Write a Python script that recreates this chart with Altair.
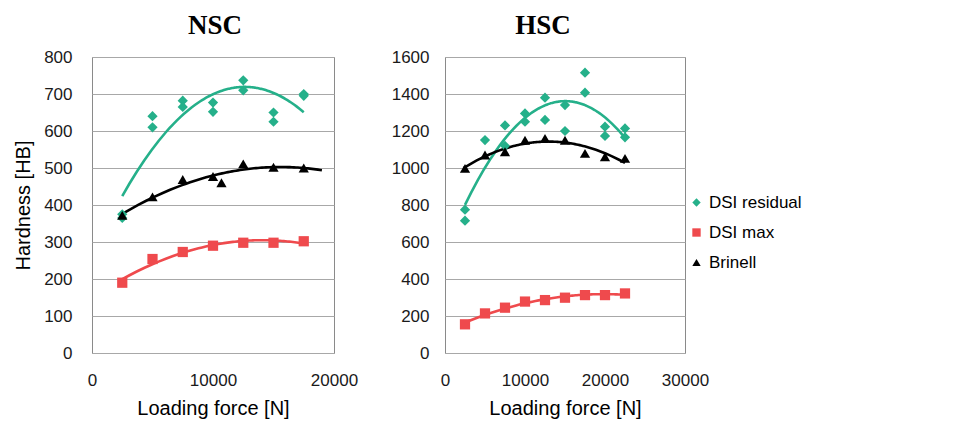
import altair as alt
import pandas as pd

SERIES = ["DSI residual", "DSI max", "Brinell"]
COLORS = ["#25B08A", "#EF4A4D", "#000000"]
SHAPES = ["diamond", "square", "triangle-up"]

# NSC panel
nsc_res_x = [2500, 2500, 5000, 5000, 7500, 7500, 10000, 10000, 12500, 12500, 15000, 15000, 17500, 17500]
nsc_res_y = [365, 375, 640, 610, 682, 665, 677, 652, 737, 710, 650, 625, 700, 695]
nsc_max_x = [2500, 5000, 7500, 10000, 12500, 15000, 17500]
nsc_max_y = [190, 254, 273, 290, 298, 298, 302]
nsc_bri_x = [2500, 5000, 7500, 10000, 10700, 12500, 15000, 17500]
nsc_bri_y = [372, 422, 469, 477, 460, 511, 502, 500]

# HSC panel
hsc_res_x = [2500, 2500, 5000, 7500, 7500, 10000, 10000, 12500, 12500, 15000, 15000,
             17500, 17500, 20000, 20000, 22500, 22500]
hsc_res_y = [775, 715, 1151, 1230, 1120, 1295, 1250, 1380, 1260, 1340, 1200,
             1515, 1407, 1223, 1173, 1214, 1166]
hsc_max_x = [2500, 5000, 7500, 10000, 12500, 15000, 17500, 20000, 22500]
hsc_max_y = [155, 214, 245, 278, 286, 299, 313, 313, 322]
hsc_bri_x = [2500, 5000, 7500, 10000, 12500, 15000, 17500, 20000, 22500]
hsc_bri_y = [998, 1070, 1088, 1150, 1160, 1150, 1079, 1061, 1052]

# trendline extents (Excel-style polynomial order 2)
nsc_ext = [[2500, 17500], [2500, 17500], [2500, 19000]]
hsc_ext = [[2500, 22500], [2500, 22500], [2300, 22500]]


def make_df(groups):
    rows = []
    for s, (xs, ys) in zip(SERIES, groups):
        for a, b in zip(xs, ys):
            rows.append({"force": a, "hardness": b, "series": s})
    return pd.DataFrame(rows)


nsc_df = make_df([(nsc_res_x, nsc_res_y), (nsc_max_x, nsc_max_y), (nsc_bri_x, nsc_bri_y)])
hsc_df = make_df([(hsc_res_x, hsc_res_y), (hsc_max_x, hsc_max_y), (hsc_bri_x, hsc_bri_y)])

LABEL_FONT = "Liberation Sans"


def panel(df, xvals, yvals, title, title_dx, extents, ytitle, legend, width, ylabpad):
    x = alt.X("force:Q", scale=alt.Scale(domain=[xvals[0], xvals[-1]], nice=False),
              axis=alt.Axis(values=xvals, format="d", title="Loading force [N]", grid=False,
                            ticks=False, domain=False, labelPadding=19, titlePadding=10,
                            labelFlush=False, labelOverlap=False))
    y = alt.Y("hardness:Q", scale=alt.Scale(domain=[yvals[0], yvals[-1]], nice=False),
              axis=alt.Axis(values=yvals, format="d", title=ytitle, grid=True, ticks=False,
                            domain=False, labelPadding=ylabpad, titlePadding=10))
    color = alt.Color("series:N", scale=alt.Scale(domain=SERIES, range=COLORS), legend=legend)
    shape = alt.Shape("series:N", scale=alt.Scale(domain=SERIES, range=SHAPES), legend=legend)
    base = alt.Chart(df)
    layers = []
    for s, c, ext in zip(SERIES, COLORS, extents):
        layers.append(
            base.transform_filter(alt.datum.series == s)
            .transform_regression("force", "hardness", method="poly", order=2, extent=ext)
            .mark_line(strokeWidth=2.6, color=c)
            .encode(x=x, y=y)
        )
    pts = base.mark_point(filled=True, size=105, opacity=1).encode(x=x, y=y, color=color, shape=shape)
    return alt.layer(*layers, pts).properties(
        width=width, height=296,
        title=alt.TitleParams(title, font="Liberation Serif", fontSize=27, fontWeight="bold",
                              anchor="middle", frame="group", dx=title_dx, offset=8, color="#000"),
    )


left = panel(nsc_df, [0, 10000, 20000], list(range(0, 801, 100)), "NSC", 2, nsc_ext,
             "Hardness [HB]", None, 242, 20)
right = panel(hsc_df, [0, 10000, 20000, 30000], list(range(0, 1601, 200)), "HSC", -22, hsc_ext,
              None,
              alt.Legend(title=None, orient="none", legendX=243, legendY=137, labelFontSize=17,
                         labelFont=LABEL_FONT, labelColor="#000", symbolSize=70, rowPadding=12,
                         symbolStrokeWidth=0),
              240, 16)

chart = (
    alt.hconcat(left, right, spacing=111, bounds="flush")
    .resolve_legend(color="independent", shape="independent")
    .resolve_scale(color="independent", shape="independent")
    .configure_view(stroke="#8a8a8a", strokeWidth=1)
    .configure_axis(labelFont=LABEL_FONT, labelFontSize=17, labelColor="#1a1a1a",
                    titleFont=LABEL_FONT, titleFontSize=20, titleFontWeight="normal",
                    titleColor="#000", gridColor="#a8a8a8", gridWidth=1)
    .properties(background="white", padding={"left": 5, "top": 3, "right": 5, "bottom": 5})
)

chart.save("out.html", embed_options={"renderer": "svg", "actions": False})
